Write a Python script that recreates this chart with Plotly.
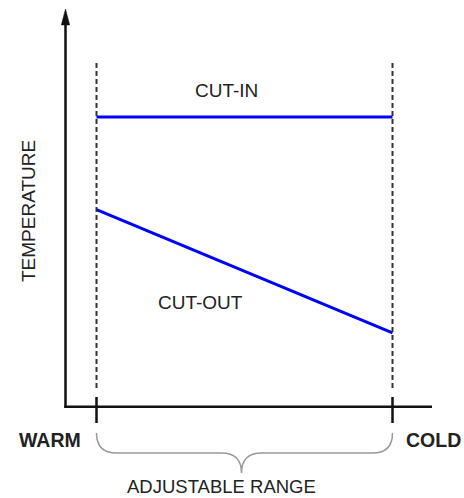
import plotly.graph_objects as go

# ---- data (schematic) ----
setting = [0.0, 1.0]                 # adjustable range: warm -> cold
cut_in = [1.0, 1.0]                  # cut-in temperature (relative)
cut_out = [0.68, 0.255]              # cut-out temperature (relative)
end_labels = ["WARM", "COLD"]
line_labels = ["CUT-IN", "CUT-OUT"]
axis_title = "TEMPERATURE"
range_label = "ADJUSTABLE RANGE"

W, H = 464, 498
# axis scale: setting 0 -> px 96.5, 1 -> px 392.5 ; temperature 0 -> px 406.7, 1 -> px 117
X0, XS = 96.5, 296.0
Y0, YS = 406.7, 289.7


def px2x(p):
    return (p - X0) / XS


def px2y(p):
    return (Y0 - p) / YS


FONT = "Liberation Sans, Arial, Helvetica, sans-serif"
TXT = "#222222"

fig = go.Figure()

# data lines
fig.add_trace(go.Scatter(x=setting, y=cut_in, mode="lines",
                         line=dict(color="#0000ff", width=3), hoverinfo="skip"))
fig.add_trace(go.Scatter(x=setting, y=cut_out, mode="lines",
                         line=dict(color="#0000ff", width=3), hoverinfo="skip"))

shapes = []
# dashed range boundaries
for xv in setting:
    shapes.append(dict(type="line", xref="x", yref="y", x0=xv, x1=xv,
                       y0=px2y(63), y1=px2y(388),
                       line=dict(color="#333333", width=2, dash="5px,3px")))
    # tick marks on x-axis
    shapes.append(dict(type="line", xref="x", yref="y", x0=xv, x1=xv,
                       y0=px2y(397), y1=px2y(423),
                       line=dict(color="#111111", width=2.5)))

# axes
ax_x = px2x(65.5)
shapes.append(dict(type="line", xref="x", yref="y", x0=ax_x, x1=ax_x,
                   y0=px2y(408), y1=px2y(22),
                   line=dict(color="#111111", width=2.5)))
shapes.append(dict(type="line", xref="x", yref="y", x0=px2x(64.3), x1=px2x(432),
                   y0=0, y1=0, line=dict(color="#111111", width=2.5)))
# arrow head
shapes.append(dict(type="path", xref="x", yref="y",
                   path=f"M {px2x(65.5)},{px2y(9)} L {px2x(61.3)},{px2y(25)} L {px2x(69.7)},{px2y(25)} Z",
                   fillcolor="#111111", line=dict(color="#111111", width=0.5)))

# brace under the range
xl, xr = setting[0], setting[1]
xm = (xl + xr) / 2 - px2x(99.5) + px2x(96.5)
r = 20 / XS
yt, yh, yb = px2y(433), px2y(453), px2y(473)
brace = (f"M {xl},{yt} Q {xl},{yh} {xl + r},{yh} L {xm - r},{yh} "
         f"Q {xm},{yh} {xm},{yb} Q {xm},{yh} {xm + r},{yh} "
         f"L {xr - r},{yh} Q {xr},{yh} {xr},{yt}")
shapes.append(dict(type="path", xref="x", yref="y", path=brace,
                   line=dict(color="#999999", width=1.5)))

annotations = [
    dict(x=px2x(226.5), y=px2y(90.5), text=line_labels[0]),
    dict(x=px2x(200), y=px2y(302.5), text=line_labels[1]),
    dict(x=px2x(28.5), y=px2y(211.5), text=axis_title, textangle=-90),
    dict(x=px2x(49.5), y=px2y(440), text=f"<b>{end_labels[0]}</b>", font=dict(size=19.5)),
    dict(x=px2x(433.5), y=px2y(440), text=f"<b>{end_labels[1]}</b>", font=dict(size=19.5)),
    dict(x=px2x(221), y=px2y(486.5), text=range_label, font=dict(size=18.5)),
]
for a in annotations:
    a.setdefault("font", dict(size=19))
    a["font"] = dict(family=FONT, color=TXT, **a["font"])
    a.update(xref="x", yref="y", showarrow=False, xanchor="center", yanchor="middle")

fig.update_layout(
    width=W, height=H,
    margin=dict(l=0, r=0, t=0, b=0),
    paper_bgcolor="white", plot_bgcolor="white",
    showlegend=False,
    shapes=shapes, annotations=annotations,
    xaxis=dict(range=[px2x(0), px2x(W)], visible=False, fixedrange=True),
    yaxis=dict(range=[px2y(H), px2y(0)], visible=False, fixedrange=True),
)

fig.write_html("out.html", config={"displayModeBar": False},
               post_script="document.body.style.margin='0';document.body.style.overflow='hidden';")
